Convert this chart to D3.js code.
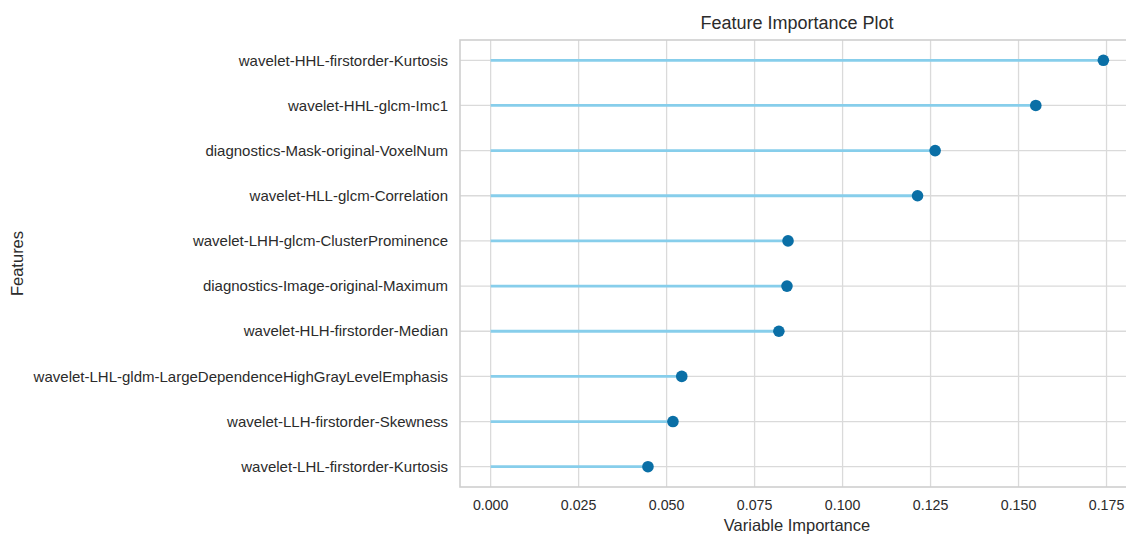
<!DOCTYPE html>
<html>
<head>
<meta charset="utf-8">
<script src="https://cdn.jsdelivr.net/npm/d3@7"></script>
<style>
  html, body { margin: 0; padding: 0; background: #ffffff; }
  svg { display: block; font-family: "Liberation Sans", Arial, sans-serif; }
</style>
</head>
<body>
<svg id="chart" width="1126" height="534"></svg>
<script>
// Features, listed bottom to top
const features = [
  "wavelet-LHL-firstorder-Kurtosis",
  "wavelet-LLH-firstorder-Skewness",
  "wavelet-LHL-gldm-LargeDependenceHighGrayLevelEmphasis",
  "wavelet-HLH-firstorder-Median",
  "diagnostics-Image-original-Maximum",
  "wavelet-LHH-glcm-ClusterProminence",
  "wavelet-HLL-glcm-Correlation",
  "diagnostics-Mask-original-VoxelNum",
  "wavelet-HHL-glcm-Imc1",
  "wavelet-HHL-firstorder-Kurtosis"
];
const importance = [0.0447, 0.0518, 0.0543, 0.0819, 0.0842, 0.0845, 0.1213, 0.1263, 0.1549, 0.1741];
const xTicks = [0, 0.025, 0.05, 0.075, 0.1, 0.125, 0.15, 0.175];

const svg = d3.select("#chart");
const plot = { left: 460, top: 40, right: 1134, bottom: 487 };

// 5% padding around the data range on both axes
const xMax = d3.max(importance);
const xPad = xMax * 0.05;
const x = d3.scaleLinear().domain([-xPad, xMax + xPad]).range([plot.left, plot.right]);
const n = features.length;
const yPad = (n - 1) * 0.05;
const y = d3.scaleLinear().domain([-yPad, n - 1 + yPad]).range([plot.bottom, plot.top]);

const gridColor = "#dadada";
const textColor = "#2b2b2b";

// vertical grid
svg.append("g").selectAll("line").data(xTicks).join("line")
  .attr("x1", d => x(d)).attr("x2", d => x(d))
  .attr("y1", plot.top).attr("y2", plot.bottom)
  .attr("stroke", gridColor).attr("stroke-width", 1.3);

// horizontal grid
svg.append("g").selectAll("line").data(features).join("line")
  .attr("x1", plot.left).attr("x2", plot.right)
  .attr("y1", (d, i) => y(i)).attr("y2", (d, i) => y(i))
  .attr("stroke", gridColor).attr("stroke-width", 1.3);

// frame
svg.append("rect")
  .attr("x", plot.left).attr("y", plot.top)
  .attr("width", plot.right - plot.left).attr("height", plot.bottom - plot.top)
  .attr("fill", "none").attr("stroke", "#cfcfcf").attr("stroke-width", 1.6);

// stems from zero to each value
svg.append("g").selectAll("line").data(importance).join("line")
  .attr("x1", x(0)).attr("x2", d => x(d))
  .attr("y1", (d, i) => y(i)).attr("y2", (d, i) => y(i))
  .attr("stroke", "#87ceeb").attr("stroke-width", 2.8);

// markers
svg.append("g").selectAll("circle").data(importance).join("circle")
  .attr("cx", d => x(d)).attr("cy", (d, i) => y(i))
  .attr("r", 5.8).attr("fill", "#0a6fa6");

// y tick labels
svg.append("g").selectAll("text").data(features).join("text")
  .attr("x", plot.left - 12).attr("y", (d, i) => y(i))
  .attr("dy", "0.35em").attr("text-anchor", "end")
  .attr("font-size", 15).attr("fill", textColor)
  .text(d => d);

// x tick labels
svg.append("g").selectAll("text").data(xTicks).join("text")
  .attr("x", d => x(d)).attr("y", 510)
  .attr("text-anchor", "middle")
  .attr("font-size", 14.2).attr("fill", textColor)
  .text(d => d3.format(".3f")(d));

// axis titles
svg.append("text")
  .attr("x", (plot.left + plot.right) / 2).attr("y", 531)
  .attr("text-anchor", "middle").attr("font-size", 16.5).attr("fill", textColor)
  .text("Variable Importance");

svg.append("text")
  .attr("transform", `translate(23,${(plot.top + plot.bottom) / 2}) rotate(-90)`)
  .attr("text-anchor", "middle").attr("font-size", 16.5).attr("fill", textColor)
  .text("Features");

// title
svg.append("text")
  .attr("x", (plot.left + plot.right) / 2).attr("y", 29)
  .attr("text-anchor", "middle").attr("font-size", 18).attr("fill", textColor)
  .text("Feature Importance Plot");
</script>
</body>
</html>
